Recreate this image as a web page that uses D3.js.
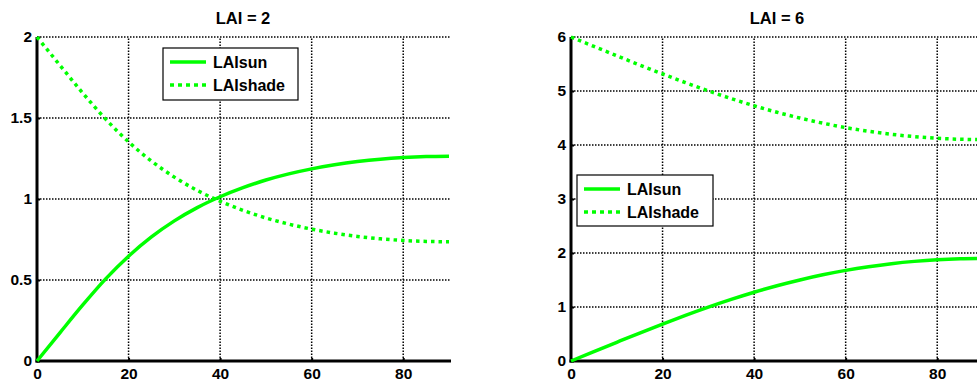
<!DOCTYPE html>
<html>
<head>
<meta charset="utf-8">
<script src="https://cdn.jsdelivr.net/npm/d3@7"></script>
<style>
  body { margin: 0; background: #fff; }
  text { font-family: "Liberation Sans", Arial, sans-serif; font-weight: bold; }
</style>
</head>
<body>
<script>
// solar elevation (deg)
let angles = [0, 5, 10, 15, 20, 25, 30, 35, 40, 45, 50, 55, 60, 65, 70, 75, 80, 85, 90];

// LAI = 2
let sun2 = [0, 0.174, 0.346, 0.507, 0.647, 0.766, 0.865, 0.947, 1.014, 1.070, 1.117, 1.155, 1.186, 1.211, 1.231, 1.246, 1.256, 1.262, 1.264];
let shade2 = [2, 1.826, 1.654, 1.493, 1.353, 1.234, 1.135, 1.053, 0.986, 0.930, 0.883, 0.845, 0.814, 0.789, 0.769, 0.754, 0.744, 0.738, 0.736];

// LAI = 6
let sun6 = [0, 0.174, 0.347, 0.518, 0.684, 0.845, 0.998, 1.141, 1.274, 1.394, 1.501, 1.596, 1.678, 1.746, 1.802, 1.845, 1.876, 1.894, 1.900];
let shade6 = [6, 5.826, 5.653, 5.482, 5.316, 5.155, 5.002, 4.859, 4.726, 4.606, 4.499, 4.404, 4.322, 4.254, 4.198, 4.155, 4.124, 4.106, 4.100];

let xTicks = [0, 20, 40, 60, 80];
let yTicks2 = [0, 0.5, 1, 1.5, 2];
let yTicks6 = [0, 1, 2, 3, 4, 5, 6];
let seriesNames = ['LAIsun', 'LAIshade'];

let width = 977, height = 382;
let green = '#00ff00';

let svg = d3.select('body')
  .append('svg')
    .attr('width', width)
    .attr('height', height);

function drawPanel(opt) {
  let x = d3.scaleLinear().domain([0, 90]).range([opt.left, opt.right]);
  let y = d3.scaleLinear().domain([0, opt.ymax]).range([361, 37]);
  let g = svg.append('g');

  // dotted grid
  g.selectAll('.vgrid')
    .data(xTicks.filter(d => d > 0))
    .enter().append('line')
      .attr('x1', d => x(d)).attr('x2', d => x(d))
      .attr('y1', y(0)).attr('y2', y(opt.ymax))
      .attr('stroke', '#000')
      .attr('stroke-width', 1.5)
      .attr('stroke-dasharray', '1.5,1.5');

  g.selectAll('.hgrid')
    .data(opt.yTicks.filter(d => d > 0))
    .enter().append('line')
      .attr('x1', x(0)).attr('x2', x(90) + 2)
      .attr('y1', d => y(d)).attr('y2', d => y(d))
      .attr('stroke', '#000')
      .attr('stroke-width', 1.5)
      .attr('stroke-dasharray', '1.5,1.5');

  // axes
  let xAxis = g.append('g')
    .attr('transform', `translate(0,${y(0)})`)
    .call(d3.axisBottom(x).tickValues(xTicks).tickFormat(d3.format('~g'))
      .tickSizeInner(-3).tickSizeOuter(0).tickPadding(7));
  let yAxis = g.append('g')
    .attr('transform', `translate(${x(0)},0)`)
    .call(d3.axisLeft(y).tickValues(opt.yTicks).tickFormat(d3.format('~g'))
      .tickSizeInner(-3).tickSizeOuter(0).tickPadding(5));

  [xAxis, yAxis].forEach(a => {
    a.select('.domain').attr('stroke', '#000').attr('stroke-width', 3);
    a.selectAll('.tick line').attr('stroke', '#000').attr('stroke-width', 2);
    a.selectAll('.tick text')
      .attr('fill', '#000')
      .style('font-size', '15.5px');
  });
  xAxis.select('.domain').attr('d', `M${x(0) - 1.5},0H${x(90) + 2}`);
  yAxis.select('.domain').attr('d', `M0,${y(0) + 1.5}V${y(opt.ymax)}`);

  // curves
  let line = d3.line()
    .x((d, i) => x(angles[i]))
    .y(d => y(d))
    .curve(d3.curveMonotoneX);

  g.append('path')
    .attr('d', line(opt.sun))
    .attr('fill', 'none')
    .attr('stroke', green)
    .attr('stroke-width', 3.5);

  g.append('path')
    .attr('d', line(opt.shade))
    .attr('fill', 'none')
    .attr('stroke', green)
    .attr('stroke-width', 3.5)
    .attr('stroke-dasharray', '3.5,4');

  // title
  g.append('text')
    .attr('x', (opt.left + opt.right) / 2)
    .attr('y', 24)
    .attr('text-anchor', 'middle')
    .style('font-size', '16.5px')
    .text(opt.title);

  // legend
  let lg = g.append('g').attr('transform', `translate(${opt.lx},${opt.ly})`);
  lg.append('rect')
    .attr('x', 0).attr('y', 0)
    .attr('width', opt.lw).attr('height', opt.lh)
    .attr('fill', '#fff')
    .attr('stroke', '#000')
    .attr('stroke-width', 1.2);

  let items = lg.selectAll('.legend-item')
    .data(seriesNames)
    .enter().append('g')
      .attr('transform', (d, i) => `translate(0,${14 + i * 23})`);

  items.append('line')
    .attr('x1', 7).attr('x2', 43)
    .attr('y1', 0).attr('y2', 0)
    .attr('stroke', green)
    .attr('stroke-width', 3.5)
    .attr('stroke-dasharray', (d, i) => i === 0 ? null : '4,4');

  items.append('text')
    .attr('x', 50)
    .attr('y', 5.5)
    .style('font-size', '16px')
    .text(d => d);
}

drawPanel({
  left: 37, right: 449, ymax: 2, yTicks: yTicks2,
  sun: sun2, shade: shade2, title: 'LAI = 2',
  lx: 163, ly: 48, lw: 135, lh: 52
});

drawPanel({
  left: 571, right: 983, ymax: 6, yTicks: yTicks6,
  sun: sun6, shade: shade6, title: 'LAI = 6',
  lx: 577, ly: 175, lw: 136, lh: 51
});
</script>
</body>
</html>
